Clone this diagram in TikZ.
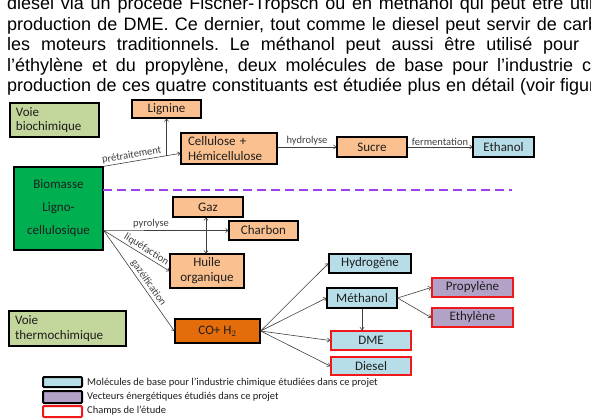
\documentclass[tikz,border=0pt]{standalone}
\usepackage{fontspec}
\setmainfont{Liberation Sans}
\newfontfamily\carl{Carlito}
\usetikzlibrary{arrows.meta,calc}
\frenchspacing
\definecolor{voie}{HTML}{C3D69B}
\definecolor{bio}{HTML}{00B050}
\definecolor{peach}{HTML}{FAC08F}
\definecolor{orng}{HTML}{E46C0A}
\definecolor{lblue}{HTML}{B7DEE8}
\definecolor{lpurp}{HTML}{B3A2C7}
\definecolor{boxred}{HTML}{F01818}
\definecolor{dashcol}{HTML}{A040F0}
\definecolor{arrcol}{HTML}{404040}
\definecolor{txt}{HTML}{1E1E1E}
\begin{document}
\begin{tikzpicture}[x=1pt,y=-1pt,
  box/.style={draw=black,line width=1.3pt,inner sep=0pt,font=\carl\fontsize{13}{14}\selectfont,text=txt,align=center},
  redbox/.style={box,draw=boxred,line width=1.8pt},
  legbox/.style={draw=black,line width=2pt,inner sep=0pt,rounded corners=1pt},
  arr/.style={draw=arrcol,line width=0.6pt,-{To[length=3pt,width=4.5pt]}},
  darr/.style={draw=arrcol,line width=0.6pt,{To[length=3pt,width=4.5pt]}-{To[length=3pt,width=4.5pt]}},
  lab/.style={font=\carl\fontsize{10.5}{11}\selectfont,text=arrcol,inner sep=1.5pt},
  legtxt/.style={font=\carl\fontsize{10.5}{11}\selectfont,text=txt,inner sep=0pt,anchor=west},
  para/.style={anchor=base west,inner sep=0pt,font=\fontsize{18}{20}\selectfont,text=black}]
\useasboundingbox (0,0) rectangle (591,418);
\clip (0,0) rectangle (591,418);
\fill[white] (0,0) rectangle (591,418);

% paragraph text (cut at the right edge)
\node[para] (l1) at (7,9.5) {\makebox[563pt][s]{diesel via un procédé Fischer-Tropsch ou en méthanol qui peut être \rlap{utilisé}}};
\node[para] (l2) at (7,30) {\makebox[556pt][s]{production de DME. Ce dernier, tout comme le diesel peut servir de \rlap{carburant}}};
\node[para] (l3) at (7,50.5) {\makebox[583pt][s]{les moteurs traditionnels. Le méthanol peut aussi être utilisé pour \rlap{produire}}};
\node[para] (l4) at (7,71) {\makebox[575pt][s]{l’éthylène et du propylène, deux molécules de base pour l’industrie \rlap{chimique}}};
\node[para] (l5) at (7,91.5) {\makebox[513pt][s]{production de ces quatre constituants est étudiée plus en détail \rlap{(voir figure}}};

% boxes
\node[box,fill=voie,minimum width=89pt,minimum height=34pt,text width=77pt,align=left,font=\carl\fontsize{13}{14.5}\selectfont] (voieb) at (54.5,120) {Voie\\biochimique};
\node[box,fill=peach,minimum width=69pt,minimum height=18pt] (lignine) at (166.5,109) {Lignine};
\node[box,fill=peach,minimum width=96pt,minimum height=31pt,text width=82pt,align=left,font=\carl\fontsize{13}{14.5}\selectfont] (cellulose) at (229,148.5) {Cellulose +\\Hémicellulose};
\node[box,fill=peach,minimum width=70pt,minimum height=20pt] (sucre) at (372,147) {Sucre};
\node[box,fill=lblue,minimum width=61pt,minimum height=20pt] (ethanol) at (503.5,147) {Ethanol};
\node[box,fill=bio,minimum width=89pt,minimum height=83pt,font=\carl\fontsize{13}{23}\selectfont] (biomasse) at (58.5,208.5) {Biomasse\\Ligno-\\cellulosique};
\node[box,fill=peach,minimum width=70pt,minimum height=20pt] (gaz) at (208,207) {Gaz};
\node[box,fill=peach,minimum width=69pt,minimum height=19pt] (charbon) at (263.5,230.5) {Charbon};
\node[box,fill=peach,minimum width=74pt,minimum height=34pt,font=\carl\fontsize{13}{15}\selectfont] (huile) at (207,271) {Huile\\organique};
\node[box,fill=orng,minimum width=85pt,minimum height=24pt] (co) at (217.5,331) {CO+ H$_2$};
\node[box,fill=voie,minimum width=117pt,minimum height=35pt,text width=105pt,align=left,font=\carl\fontsize{13}{14.5}\selectfont] (voiet) at (67.5,328.5) {Voie\\thermochimique};
\node[box,fill=lblue,minimum width=82pt,minimum height=19pt] (hydrogene) at (370,263.5) {Hydrogène};
\node[box,fill=lblue,minimum width=70pt,minimum height=20pt] (methanol) at (362,298) {Méthanol};
\node[redbox,fill=lpurp,minimum width=81pt,minimum height=19pt] (propylene) at (472.5,287.5) {Propylène};
\node[redbox,fill=lpurp,minimum width=81pt,minimum height=19pt] (ethylene) at (472.5,317.5) {Ethylène};
\node[redbox,fill=lblue,minimum width=80pt,minimum height=19pt] (dme) at (371,340.5) {DME};
\node[redbox,fill=lblue,minimum width=80pt,minimum height=18pt] (diesel) at (371,366) {Diesel};

% dashed separator
\coordinate (dashA) at (103,190);
\coordinate (dashB) at (512,190);
\draw[dashcol,line width=1.5pt,dash pattern=on 9pt off 5pt] (dashA) -- (dashB);

% connectors
\coordinate (cellT) at ($(cellulose.south west)!0.35!(cellulose.north west)$);
\draw[arr] (biomasse.north east) -- node[lab,sloped,above,pos=0.38] {prétraitement} (cellT);
\path (biomasse.north east) -- (cellT) coordinate[pos=0.82] (lig0);
\draw[arr] (lig0) -- (lig0 |- lignine.south);
\draw[arr] (cellulose.east |- sucre.west) -- node[lab,above] {hydrolyse} (sucre.west);
\draw[arr] (sucre.east) -- node[lab,above] {fermentation} (ethanol.west);
\coordinate (b0) at ($(biomasse.south east)!0.24!(biomasse.north east)$);
\draw[arr] (b0) -- node[lab,above,pos=0.38] {pyrolyse} (charbon.west);
\draw[arr] (b0) -- node[lab,sloped,above,pos=0.6] {liquéfaction} (huile.west);
\draw[arr] (b0) -- node[lab,sloped,above,pos=0.56] {gazéification} (co.west);
\coordinate (gz) at ($(gaz.south)+(-2,0)$);
\draw[darr] (gz) -- (gz |- huile.north);
\draw[arr] (co.east) -- (hydrogene.west);
\draw[arr] (co.east) -- (methanol.west);
\draw[arr] (co.east) -- (dme.west);
\draw[arr] (co.east) -- (diesel.west);
\draw[arr] (methanol.south) -- (methanol.south |- dme.north);
\draw[arr] (methanol.east) -- (propylene.west);
\draw[arr] (methanol.east) -- (ethylene.west);

% legend
\node[legbox,fill=lblue,minimum width=39pt,minimum height=10pt] (lg1) at (62.5,382) {};
\node[legbox,fill=lpurp,minimum width=39pt,minimum height=12pt] (lg2) at (62.5,397) {};
\node[legbox,draw=boxred,fill=white,minimum width=39pt,minimum height=11pt] (lg3) at (62.5,411.5) {};
\node[legtxt] (lt1) at (87,383) {Molécules de base pour l’industrie chimique étudiées dans ce projet};
\node[legtxt] (lt2) at (87,396.5) {Vecteurs énergétiques étudiés dans ce projet};
\node[legtxt] (lt3) at (87,411) {Champs de l’étude};
\end{tikzpicture}
\end{document}
